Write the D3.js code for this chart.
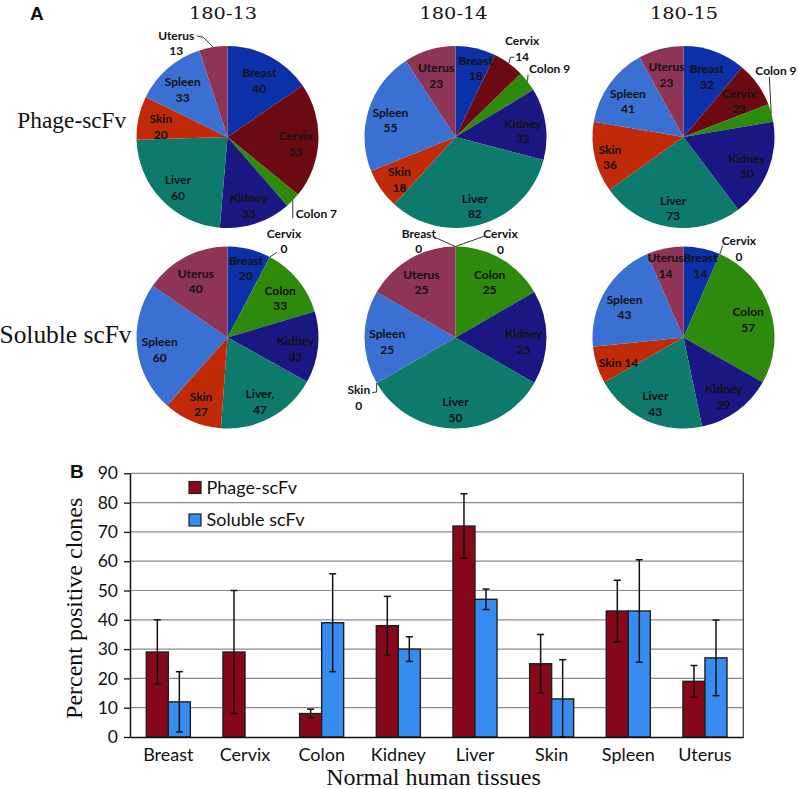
<!DOCTYPE html>
<html><head><meta charset="utf-8">
<script src="https://cdn.jsdelivr.net/npm/d3@7"></script>
<style>body{margin:0;background:#fff}svg{display:block}</style>
</head><body>
<svg id="chart" width="798" height="789"></svg>
<script>
// ---------- data ----------
const tissues = ["Breast","Cervix","Colon","Kidney","Liver","Skin","Spleen","Uterus"];
const clones = ["180-13","180-14","180-15"];
const formats = ["Phage-scFv","Soluble scFv"];
const phage_180_13 = [40,53,7,33,60,20,33,13];
const phage_180_14 = [18,14,9,32,82,18,55,23];
const phage_180_15 = [32,23,9,50,73,36,41,23];
const soluble_180_13 = [20,0,33,33,47,27,60,40];
const soluble_180_14 = [0,0,25,25,50,0,25,25];
const soluble_180_15 = [14,0,57,29,43,14,43,14];
const phageMean = [29,29,8,38,72,25,43,19];
const phageErr = [11,21,1.5,10,11,10,10.5,5.4];
const solubleMean = [12,0,39,30,47,13,43,27];
const solubleErr = [10.3,0,16.7,4.2,3.5,13.4,17.5,12.9];
const yTicks = [0,10,20,30,40,50,60,70,80,90];

// ---------- styles ----------
const sliceColors = ["#0b30a8","#6c0a14","#2e8a0d","#1a1783","#0e7a6c","#c02a08","#3a70d2","#8e3456"];
const barColors = {"Phage-scFv":"#87081a","Soluble scFv":"#378cf0"};
const sansBold = "Lato, 'Liberation Sans', sans-serif";
const serif = "'Liberation Serif', serif";

const svg = d3.select("#chart");

// ---------- Panel A: pies ----------
const pies = [
  {format:"Phage-scFv", clone:"180-13", values:phage_180_13},
  {format:"Phage-scFv", clone:"180-14", values:phage_180_14},
  {format:"Phage-scFv", clone:"180-15", values:phage_180_15},
  {format:"Soluble scFv", clone:"180-13", values:soluble_180_13},
  {format:"Soluble scFv", clone:"180-14", values:soluble_180_14},
  {format:"Soluble scFv", clone:"180-15", values:soluble_180_15}
];
const R = 91;
const pieX = d3.scalePoint().domain(clones).range([227.5, 683.5]);
const pieY = d3.scalePoint().domain(formats).range([137, 337.5]);
const pieGen = d3.pie().sort(null).value(d => d.value);
const arcGen = d3.arc().innerRadius(0).outerRadius(R);
const labelArc = d3.arc().innerRadius(R*0.75).outerRadius(R*0.75);

// label layout (outside labels with leader lines)
const outside = {
  "Phage-scFv|180-13|Uterus": {at:[-37,-4], leader:[[0,0],[-10,-10],[-16,-11]]},
  "Phage-scFv|180-13|Colon": {at:[3,13], one:true, leader:[[0,0],[0,18]]},
  "Phage-scFv|180-14|Cervix": {at:[13.3,-14.3], leader:[[0,0],[1.6,-6],[5.6,-6]]},
  "Phage-scFv|180-14|Colon": {at:[1.4,-13.2], one:true, leader:[[0,0],[0.5,-7]]},
  "Phage-scFv|180-15|Colon": {at:[-15.9,-42.1], one:true, leader:[[0,0],[-1.9,-36]]},
  "Soluble scFv|180-13|Cervix": {at:[14.2,-15.7], leader:[[0,0],[7,-4.5]]},
  "Soluble scFv|180-14|Breast": {at:[-36.7,-5.3], leader:[[0,0],[-18,-8],[-21,-8]]},
  "Soluble scFv|180-14|Cervix": {at:[45,-4.6], leader:[[0,0],[28,-10],[32,-10]]},
  "Soluble scFv|180-14|Skin": {at:[-17.9,14.5], leader:[[0,0],[0,9],[-4.5,9.5]]},
  "Soluble scFv|180-15|Cervix": {at:[19.1,-5.3], leader:[[0,0],[2.8,-8.5]]}
};
// small nudges of inside labels (as in the reference layout)
const nudge = {
  "Phage-scFv|180-14|Breast": [5,-6],
  "Phage-scFv|180-15|Skin": [-7,1],
  "Soluble scFv|180-13|Breast": [2,-7],
  "Soluble scFv|180-15|Breast": [3,-9],
  "Soluble scFv|180-15|Uterus": [-4,-9]
};
const oneLineInside = {"Soluble scFv|180-15|Skin": true};
const nameOverride = {"Soluble scFv|180-13|Liver": "Liver,"};

pies.forEach(p => {
  const g = svg.append("g").attr("transform", `translate(${pieX(p.clone)},${pieY(p.format)})`);
  const arcs = pieGen(tissues.map((t,i) => ({tissue:t, value:p.values[i], idx:i})));
  g.selectAll("path.slice").data(arcs).join("path")
    .attr("class","slice")
    .attr("d", arcGen)
    .attr("fill", d => sliceColors[d.data.idx]);

  arcs.forEach(d => {
    const key = `${p.format}|${p.clone}|${d.data.tissue}`;
    const name = nameOverride[key] || d.data.tissue;
    const val = d.data.value;
    const cfg = outside[key];
    const lbl = g.append("g").attr("font-family", sansBold).attr("font-weight", 700)
      .attr("font-size", 12).attr("fill", "#111");
    if (cfg) {
      const a = (d.startAngle + d.endAngle) / 2;
      const ex = R * Math.sin(a), ey = -R * Math.cos(a);
      g.append("path")
        .attr("d", d3.line()(cfg.leader.map(q => [ex + q[0], ey + q[1]])))
        .attr("fill","none").attr("stroke","#333").attr("stroke-width",1);
      const cx = ex + cfg.at[0], cy = ey + cfg.at[1];
      if (cfg.one) {
        lbl.append("text").attr("x", cx).attr("y", cy + 4.3).attr("text-anchor","start").text(`${name} ${val}`);
      } else {
        lbl.append("text").attr("x", cx).attr("y", cy - 3.5).attr("text-anchor","middle").text(name);
        lbl.append("text").attr("x", cx).attr("y", cy + 12).attr("text-anchor","middle").text(val);
      }
    } else if (val > 0) {
      const [c0, cy0] = labelArc.centroid(d);
      const n = nudge[key] || [0,0];
      const cx = c0 + n[0];
      const cy = cy0 + 4 + n[1];
      if (oneLineInside[key]) {
        lbl.append("text").attr("x", cx).attr("y", cy + 4.3).attr("text-anchor","middle").text(`${name} ${val}`);
      } else {
        lbl.append("text").attr("x", cx).attr("y", cy - 3.5).attr("text-anchor","middle").text(name);
        lbl.append("text").attr("x", cx).attr("y", cy + 12).attr("text-anchor","middle").text(val);
      }
    }
  });
});

// clone titles
const titleX = d3.scalePoint().domain(clones).range([223, 684]);
svg.append("g").selectAll("text").data(clones).join("text")
  .attr("x", d => titleX(d)).attr("y", 18.5)
  .attr("text-anchor","middle")
  .attr("font-family","'DejaVu Serif', serif").attr("font-size",17.5)
  .attr("textLength",68).attr("lengthAdjust","spacingAndGlyphs")
  .attr("fill","#111")
  .text(d => d);

// row labels
svg.append("text").attr("x",17.3).attr("y",128.3)
  .attr("font-family",serif).attr("font-size",23)
  .attr("textLength",109).attr("lengthAdjust","spacingAndGlyphs")
  .attr("fill","#111").text(formats[0]);
svg.append("text").attr("x",-0.5).attr("y",342.7)
  .attr("font-family",serif).attr("font-size",25)
  .attr("textLength",132).attr("lengthAdjust","spacingAndGlyphs")
  .attr("fill","#111").text(formats[1]);

// panel letters
svg.append("text").attr("x",30).attr("y",19.5)
  .attr("font-family","'Liberation Sans', Arial, sans-serif").attr("font-weight",700).attr("font-size",19)
  .attr("fill","#111").text("A");
svg.append("text").attr("x",70).attr("y",477.5)
  .attr("font-family","'Liberation Sans', Arial, sans-serif").attr("font-weight",700).attr("font-size",19)
  .attr("fill","#111").text("B");

// ---------- Panel B: bar chart ----------
const pLeft = 130, pRight = 743.3, pTop = 473.3, pBottom = 737;
const x = d3.scaleBand().domain(tissues).range([pLeft, pRight]).padding(0);
const xs = d3.scaleBand().domain(formats).range([0, x.bandwidth()]).paddingInner(0).paddingOuter(0.741);
const y = d3.scaleLinear().domain([0, 90]).range([pBottom, pTop]);

// gridlines
svg.append("g").selectAll("line").data(yTicks.filter(t => t > 0)).join("line")
  .attr("x1", pLeft).attr("x2", pRight)
  .attr("y1", d => y(d)).attr("y2", d => y(d))
  .attr("stroke","#8a8a8a").attr("stroke-width",1.2);
// right frame
svg.append("line").attr("x1", pRight).attr("x2", pRight).attr("y1", pTop).attr("y2", pBottom)
  .attr("stroke","#444").attr("stroke-width",1.3);

// bars
const barData = [];
tissues.forEach((t,i) => {
  barData.push({tissue:t, format:formats[0], v:phageMean[i], e:phageErr[i]});
  barData.push({tissue:t, format:formats[1], v:solubleMean[i], e:solubleErr[i]});
});
svg.append("g").selectAll("rect").data(barData.filter(d => d.v > 0)).join("rect")
  .attr("x", d => x(d.tissue) + xs(d.format))
  .attr("width", xs.bandwidth())
  .attr("y", d => y(d.v))
  .attr("height", d => y(0) - y(d.v))
  .attr("fill", d => barColors[d.format])
  .attr("stroke","#1e1e1e").attr("stroke-width",1.4);

// error bars
const eg = svg.append("g").attr("stroke","#111").attr("stroke-width",1.5);
barData.filter(d => d.e > 0).forEach(d => {
  const cx = x(d.tissue) + xs(d.format) + xs.bandwidth()/2;
  const lo = y(Math.max(0, d.v - d.e)), hi = y(d.v + d.e);
  eg.append("line").attr("x1",cx).attr("x2",cx).attr("y1",lo).attr("y2",hi);
  eg.append("line").attr("x1",cx-3.5).attr("x2",cx+3.5).attr("y1",hi).attr("y2",hi);
  eg.append("line").attr("x1",cx-3.5).attr("x2",cx+3.5).attr("y1",lo).attr("y2",lo);
});

// axes
const yAxis = svg.append("g").attr("transform",`translate(${pLeft},0)`)
  .call(d3.axisLeft(y).tickValues(yTicks).tickSize(6).tickSizeOuter(0).tickPadding(6));
yAxis.select(".domain").attr("stroke","#111").attr("stroke-width",1.5);
yAxis.selectAll(".tick line").attr("stroke","#111").attr("stroke-width",1.3);
yAxis.selectAll(".tick text").attr("font-family","Lato, sans-serif").attr("font-size",17.5).attr("fill","#111");

const xAxis = svg.append("g").attr("transform",`translate(0,${pBottom})`)
  .call(d3.axisBottom(x).tickSize(0).tickSizeOuter(0).tickPadding(11));
xAxis.select(".domain").attr("stroke","#111").attr("stroke-width",1.5);
xAxis.selectAll(".tick text").attr("font-family","Lato, sans-serif").attr("font-size",18).attr("fill","#111");

// axis titles
svg.append("text").attr("transform","translate(81.5,608.3) rotate(-90)")
  .attr("text-anchor","middle").attr("font-family",serif).attr("font-size",24)
  .attr("fill","#111").text("Percent positive clones");
svg.append("text").attr("x",433.5).attr("y",784.5)
  .attr("text-anchor","middle").attr("font-family",serif).attr("font-size",24)
  .attr("fill","#111").text("Normal human tissues");

// legend
const leg = svg.append("g");
formats.forEach((f,i) => {
  leg.append("rect").attr("x",189).attr("y",481.5 + i*32.5).attr("width",12).attr("height",12)
    .attr("fill",barColors[f]).attr("stroke","#1e1e1e").attr("stroke-width",1.2);
  leg.append("text").attr("x",206.5).attr("y",493.5 + i*32.5)
    .attr("font-family","Lato, sans-serif").attr("font-size",18).attr("fill","#111").text(f);
});
</script>
</body></html>
